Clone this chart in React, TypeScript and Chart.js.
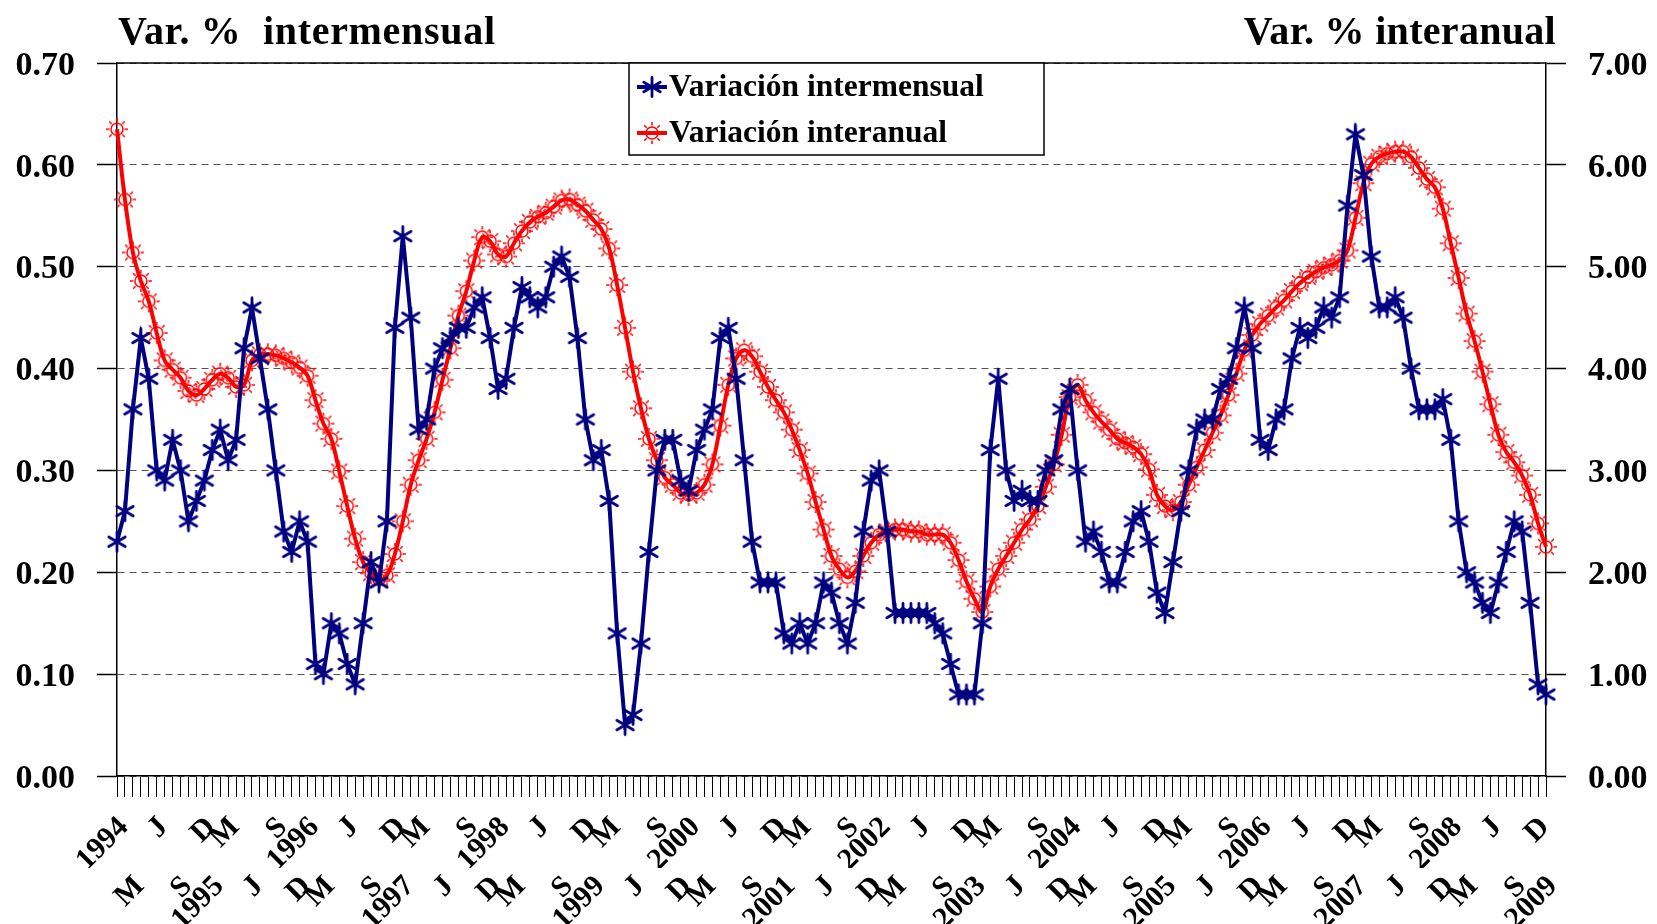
import React, { useEffect, useRef } from 'react';
import { Chart, registerables } from 'chart.js';

Chart.register(...registerables);

// ---------- data ----------
const YEARS = ['1994', '1995', '1996', '1997', '1998', '1999', '2000', '2001', '2002', '2003', '2004', '2005', '2006', '2007', '2008', '2009'];
// label shown for each month (January shows the year)
const MONTH_MARKS = ['', '', 'M', '', '', 'J', '', '', 'S', '', '', 'D'];

// Variación intermensual (left axis), Jan 1994 .. Jan 2009
const INTERMENSUAL = [
  0.23, 0.26, 0.36, 0.43, 0.39, 0.30, 0.29, 0.33, 0.30, 0.25, 0.27, 0.29,
  0.32, 0.34, 0.31, 0.33, 0.42, 0.46, 0.41, 0.36, 0.30, 0.24, 0.22, 0.25,
  0.23, 0.11, 0.10, 0.15, 0.14, 0.11, 0.09, 0.15, 0.21, 0.19, 0.25, 0.44,
  0.53, 0.45, 0.34, 0.35, 0.40, 0.42, 0.43, 0.44, 0.44, 0.46, 0.47, 0.43,
  0.38, 0.39, 0.44, 0.48, 0.47, 0.46, 0.47, 0.50, 0.51, 0.49, 0.43, 0.35,
  0.31, 0.32, 0.27, 0.14, 0.05, 0.06, 0.13, 0.22, 0.30, 0.33, 0.33, 0.29,
  0.28, 0.32, 0.34, 0.36, 0.43, 0.44, 0.39, 0.31, 0.23, 0.19, 0.19, 0.19,
  0.14, 0.13, 0.15, 0.13, 0.15, 0.19, 0.18, 0.15, 0.13, 0.17, 0.24, 0.29,
  0.30, 0.24, 0.16, 0.16, 0.16, 0.16, 0.16, 0.15, 0.14, 0.11, 0.08, 0.08,
  0.08, 0.15, 0.32, 0.39, 0.30, 0.27, 0.28, 0.27, 0.27, 0.30, 0.31, 0.36,
  0.38, 0.30, 0.23, 0.24, 0.22, 0.19, 0.19, 0.22, 0.25, 0.26, 0.23, 0.18,
  0.16, 0.21, 0.26, 0.30, 0.34, 0.35, 0.35, 0.38, 0.39, 0.42, 0.46, 0.42,
  0.33, 0.32, 0.35, 0.36, 0.41, 0.44, 0.43, 0.44, 0.46, 0.45, 0.47, 0.56,
  0.63, 0.59, 0.51, 0.46, 0.46, 0.47, 0.45, 0.40, 0.36, 0.36, 0.36, 0.37,
  0.33, 0.25, 0.20, 0.19, 0.17, 0.16, 0.19, 0.22, 0.25, 0.24, 0.17, 0.09,
  0.08,
];

// Variación interanual (right axis), Jan 1994 .. Jan 2009
const INTERANUAL = [
  6.35, 5.66, 5.14, 4.86, 4.66, 4.35, 4.08, 3.99, 3.91, 3.78, 3.74, 3.80,
  3.89, 3.95, 3.91, 3.82, 3.84, 4.08, 4.14, 4.14, 4.13, 4.10, 4.06, 4.01,
  3.93, 3.69, 3.46, 3.31, 2.99, 2.65, 2.33, 2.10, 1.99, 1.93, 1.97, 2.18,
  2.50, 2.86, 3.10, 3.31, 3.57, 3.89, 4.20, 4.52, 4.76, 5.06, 5.29, 5.25,
  5.12, 5.10, 5.23, 5.35, 5.44, 5.49, 5.53, 5.59, 5.65, 5.66, 5.61, 5.55,
  5.46, 5.37, 5.18, 4.82, 4.40, 3.97, 3.61, 3.31, 3.10, 2.93, 2.86, 2.78,
  2.76, 2.78, 2.86, 3.06, 3.44, 3.84, 4.10, 4.18, 4.12, 3.97, 3.82, 3.69,
  3.57, 3.40, 3.20, 2.97, 2.69, 2.42, 2.16, 2.03, 1.95, 2.01, 2.16, 2.29,
  2.37, 2.40, 2.42, 2.42, 2.40, 2.40, 2.37, 2.37, 2.37, 2.29, 2.12, 1.91,
  1.74, 1.61, 1.86, 2.03, 2.16, 2.29, 2.42, 2.52, 2.65, 2.84, 3.06, 3.35,
  3.72, 3.84, 3.69, 3.57, 3.48, 3.40, 3.31, 3.27, 3.23, 3.16, 3.01, 2.76,
  2.65, 2.61, 2.69, 2.86, 3.03, 3.20, 3.37, 3.54, 3.74, 3.95, 4.18, 4.33,
  4.44, 4.52, 4.60, 4.67, 4.76, 4.84, 4.90, 4.95, 4.99, 5.02, 5.06, 5.16,
  5.48, 5.82, 6.01, 6.08, 6.11, 6.13, 6.13, 6.08, 5.97, 5.86, 5.78, 5.57,
  5.23, 4.89, 4.54, 4.27, 3.97, 3.65, 3.35, 3.18, 3.08, 2.95, 2.76, 2.48,
  2.25,
];

const SERIES_NAMES = ['Variación intermensual', 'Variación interanual'];
const LEFT_TITLE = 'Var. %  intermensual';
const RIGHT_TITLE = 'Var. % interanual';

// categories built from the year list and month marks
const CATEGORIES: string[] = [];
YEARS.forEach((y) => {
  MONTH_MARKS.forEach((m, mi) => {
    if (CATEGORIES.length < INTERMENSUAL.length) CATEGORIES.push(mi === 0 ? y : m);
  });
});
// visible labels alternate between two rows
const LABEL_ROW: number[] = [];
{
  let k = 0;
  CATEGORIES.forEach((c) => {
    if (c) { LABEL_ROW.push(k % 2 === 0 ? 1 : 2); k++; } else LABEL_ROW.push(0);
  });
}

// ---------- styling ----------
const FONT = '"Liberation Serif", "Times New Roman", serif';
const NAVY = '#000080';
const RED = '#FF0000';

function makeAsterisk(color: string, r: number, lw: number): HTMLCanvasElement {
  const s = Math.ceil(2 * r + lw + 2);
  const c = document.createElement('canvas');
  c.width = s; c.height = s;
  const g = c.getContext('2d')!;
  const m = s / 2;
  g.strokeStyle = color; g.lineWidth = lw; g.lineCap = 'round';
  g.beginPath();
  [90, 30, 150].forEach((deg) => {
    const a = (deg * Math.PI) / 180;
    g.moveTo(m - r * Math.cos(a), m + r * Math.sin(a));
    g.lineTo(m + r * Math.cos(a), m - r * Math.sin(a));
  });
  g.stroke();
  return c;
}

function makeSun(color: string, rc: number, r1: number, r2: number, lw: number): HTMLCanvasElement {
  const s = Math.ceil(2 * r2 + lw + 2);
  const c = document.createElement('canvas');
  c.width = s; c.height = s;
  const g = c.getContext('2d')!;
  const m = s / 2;
  g.strokeStyle = color; g.lineWidth = lw;
  g.beginPath();
  g.arc(m, m, rc, 0, Math.PI * 2);
  g.stroke();
  g.beginPath();
  for (let k = 0; k < 8; k++) {
    const a = (k * Math.PI) / 4;
    g.moveTo(m + r1 * Math.cos(a), m + r1 * Math.sin(a));
    g.lineTo(m + r2 * Math.cos(a), m + r2 * Math.sin(a));
  }
  g.stroke();
  return c;
}

export default function App() {
  const ref = useRef<HTMLCanvasElement | null>(null);

  useEffect(() => {
    if (!ref.current) return;
    const star = makeAsterisk(NAVY, 9.5, 2.8);
    const sun = makeSun(RED, 6, 7.5, 11, 1.5);

    const decorPlugin = {
      id: 'decor',
      beforeDatasetsDraw(chart: any) {
        const { ctx, chartArea } = chart;
        ctx.save();
        ctx.strokeStyle = '#000';
        ctx.lineWidth = 1.5;
        ctx.beginPath();
        ctx.moveTo(chartArea.left, chartArea.top);
        ctx.lineTo(chartArea.right, chartArea.top);
        ctx.stroke();
        ctx.restore();
      },
      afterDraw(chart: any) {
        const { ctx, chartArea } = chart;
        ctx.save();
        // titles
        ctx.fillStyle = '#000';
        ctx.font = `bold 40px ${FONT}`;
        ctx.textBaseline = 'alphabetic';
        ctx.textAlign = 'left';
        (ctx as any).letterSpacing = '0.7px';
        ctx.fillText(LEFT_TITLE, chartArea.left + 1, 44);
        (ctx as any).letterSpacing = '0.3px';
        ctx.textAlign = 'right';
        ctx.fillText(RIGHT_TITLE, chartArea.right + 10, 44);
        (ctx as any).letterSpacing = '0px';

        // legend box
        const bx = 629, by = chartArea.top, bw = 415, bh = 92;
        ctx.fillStyle = '#fff';
        ctx.fillRect(bx, by, bw, bh);
        ctx.strokeStyle = '#000';
        ctx.lineWidth = 1.5;
        ctx.strokeRect(bx, by, bw, bh);
        const rows = [
          { y: by + 24, color: NAVY, img: star, text: SERIES_NAMES[0] },
          { y: by + 70, color: RED, img: sun, text: SERIES_NAMES[1] },
        ];
        rows.forEach((r) => {
          ctx.strokeStyle = r.color;
          ctx.lineWidth = 4;
          ctx.beginPath();
          ctx.moveTo(bx + 8, r.y);
          ctx.lineTo(bx + 38, r.y);
          ctx.stroke();
          ctx.drawImage(r.img, bx + 23 - r.img.width / 2, r.y - r.img.height / 2);
          ctx.fillStyle = '#000';
          ctx.font = `bold 31.5px ${FONT}`;
          ctx.textAlign = 'left';
          ctx.textBaseline = 'middle';
          ctx.fillText(r.text, bx + 40, r.y + 1);
        });
        ctx.restore();
      },
    };

    const tickFont = { family: FONT, size: 34, weight: 'bold' as const };
    const xFont = { family: FONT, size: 30, weight: 'bold' as const };

    const chart = new Chart(ref.current, {
      type: 'line',
      data: {
        labels: CATEGORIES,
        datasets: [
          {
            label: SERIES_NAMES[0],
            data: INTERMENSUAL,
            yAxisID: 'y',
            xAxisID: 'x',
            borderColor: NAVY,
            backgroundColor: NAVY,
            borderWidth: 4,
            tension: 0,
            pointStyle: star as any,
            pointRadius: 6,
            clip: false as any,
          },
          {
            label: SERIES_NAMES[1],
            data: INTERANUAL,
            yAxisID: 'y1',
            xAxisID: 'x',
            borderColor: RED,
            backgroundColor: RED,
            borderWidth: 4,
            tension: 0.35,
            pointStyle: sun as any,
            pointRadius: 6,
            clip: false as any,
          },
        ],
      },
      options: {
        responsive: false,
        animation: false,
        devicePixelRatio: 1,
        layout: { padding: { top: 63, left: 0, right: 0, bottom: 0 } },
        plugins: {
          legend: { display: false },
          tooltip: { enabled: false },
          title: { display: false },
        },
        scales: {
          x: {
            type: 'category',
            position: 'bottom',
            offset: false,
            weight: 0,
            grid: { display: true, drawOnChartArea: false, drawTicks: true, tickLength: 21, tickColor: '#000', tickWidth: 1 },
            border: { display: true, color: '#000', width: 1.5 },
            ticks: {
              autoSkip: false,
              minRotation: 45,
              maxRotation: 45,
              padding: 13,
              labelOffset: 7,
              color: '#000',
              font: xFont,
              callback: (_v: any, i: number) => (LABEL_ROW[i] === 1 ? CATEGORIES[i] : ''),
            },
            afterFit: (s: any) => { s.height = 92; },
          },
          x2: {
            type: 'category',
            position: 'bottom',
            offset: false,
            weight: 1,
            grid: { display: false, drawTicks: false },
            border: { display: false },
            ticks: {
              autoSkip: false,
              minRotation: 45,
              maxRotation: 45,
              padding: 1,
              labelOffset: 7,
              color: '#000',
              font: xFont,
              callback: (_v: any, i: number) => (LABEL_ROW[i] === 2 ? CATEGORIES[i] : ''),
            },
            afterFit: (s: any) => { s.height = 56; },
          },
          y: {
            position: 'left',
            min: 0,
            max: 0.7,
            ticks: {
              stepSize: 0.1,
              padding: 22,
              labelOffset: 3,
              color: '#000',
              font: tickFont,
              callback: (v: any) => Number(v).toFixed(2),
            },
            grid: { color: '#555', lineWidth: 1, tickColor: '#000', tickLength: 20, tickWidth: 1.5, tickBorderDash: [] },
            border: { display: true, color: '#000', width: 1.5, dash: [7, 5] },
            afterFit: (s: any) => { s.width = 117; },
          },
          y1: {
            position: 'right',
            min: 0,
            max: 7,
            ticks: {
              stepSize: 1,
              padding: 22,
              labelOffset: 3,
              color: '#000',
              font: tickFont,
              callback: (v: any) => Number(v).toFixed(2),
            },
            grid: { drawOnChartArea: false, tickColor: '#000', tickLength: 20, tickWidth: 1.5 },
            border: { display: true, color: '#000', width: 1.5 },
            afterFit: (s: any) => { s.width = 111; },
          },
        },
      } as any,
      plugins: [decorPlugin],
    });
    return () => chart.destroy();
  }, []);

  return (
    <div style={{ position: 'absolute', left: 0, top: 0, width: 1657, height: 924, background: '#fff' }}>
      <canvas ref={ref} width={1657} height={924} style={{ display: 'block' }} />
    </div>
  );
}
